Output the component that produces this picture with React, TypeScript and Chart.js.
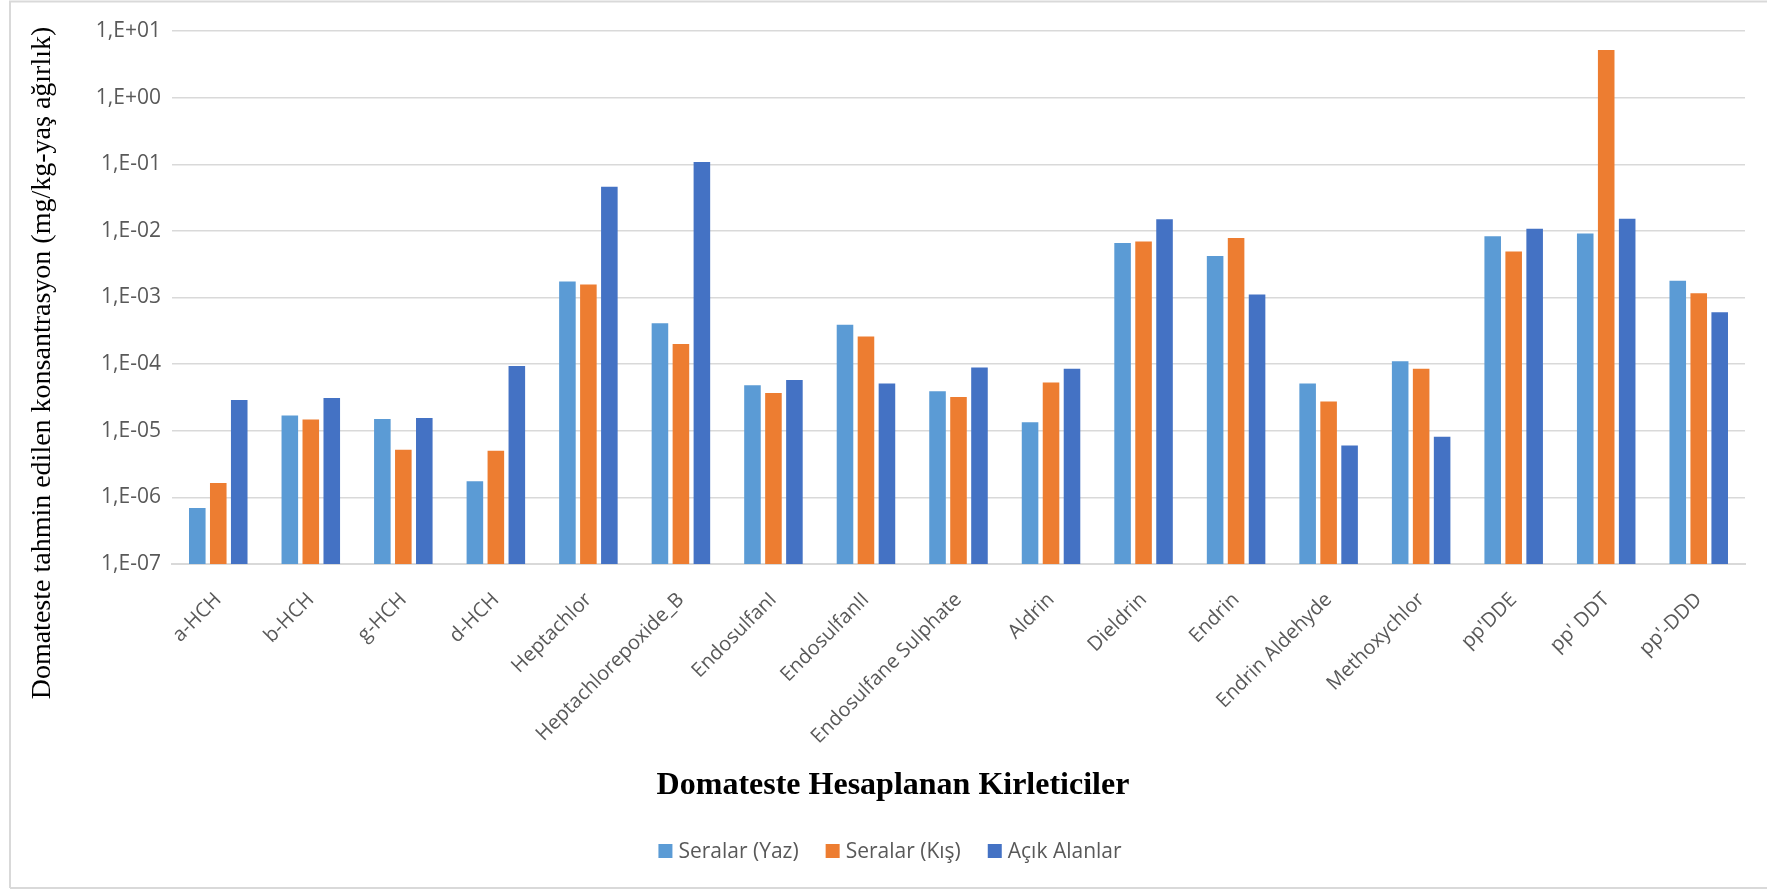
import React, { useEffect, useRef } from "react";
import { Chart, registerables } from "chart.js";

Chart.register(...registerables);

const categories = [
  "a-HCH",
  "b-HCH",
  "g-HCH",
  "d-HCH",
  "Heptachlor",
  "Heptachlorepoxide_B",
  "EndosulfanI",
  "EndosulfanII",
  "Endosulfane Sulphate",
  "Aldrin",
  "Dieldrin",
  "Endrin",
  "Endrin Aldehyde",
  "Methoxychlor",
  "pp'DDE",
  "pp' DDT",
  "pp'-DDD",
];

const seralarYaz = [
  6.9e-7, 1.7e-5, 1.5e-5, 1.75e-6, 1.74e-3, 4.1e-4, 4.8e-5, 3.9e-4, 3.9e-5,
  1.34e-5, 6.6e-3, 4.2e-3, 5.1e-5, 1.1e-4, 8.3e-3, 9.1e-3, 1.78e-3,
];

const seralarKis = [
  1.65e-6, 1.48e-5, 5.2e-6, 5.0e-6, 1.57e-3, 2.0e-4, 3.7e-5, 2.6e-4, 3.2e-5,
  5.3e-5, 6.9e-3, 7.8e-3, 2.75e-5, 8.5e-5, 4.9e-3, 5.2, 1.16e-3,
];

const acikAlanlar = [
  2.9e-5, 3.1e-5, 1.55e-5, 9.4e-5, 4.6e-2, 0.108, 5.8e-5, 5.1e-5, 8.9e-5,
  8.5e-5, 1.49e-2, 1.11e-3, 6.0e-6, 8.1e-6, 1.08e-2, 1.52e-2, 6.0e-4,
];

const seriesNames = ["Seralar (Yaz)", "Seralar (Kış)", "Açık Alanlar"];
const seriesColors = ["#5B9BD5", "#ED7D31", "#4472C4"];

const yTickExponents = [-7, -6, -5, -4, -3, -2, -1, 0, 1];

const yTitle = "Domateste tahmin edilen konsantrasyon (mg/kg-yaş ağırlık)";
const xTitle = "Domateste Hesaplanan Kirleticiler";

const W = 1767;
const H = 889;

function formatExp(v: number): string {
  const e = Math.round(Math.log10(v));
  const sign = e >= 0 ? "+" : "-";
  return "1,E" + sign + String(Math.abs(e)).padStart(2, "0");
}

const decorPlugin = {
  id: "decor",
  afterDraw(chart: any) {
    const ctx = chart.ctx as CanvasRenderingContext2D;
    ctx.save();
    // outer border
    ctx.strokeStyle = "#d9d9d9";
    ctx.lineWidth = 2;
    ctx.beginPath();
    ctx.moveTo(10, 888);
    ctx.lineTo(10, 1.5);
    ctx.lineTo(W, 1.5);
    ctx.moveTo(10, 888);
    ctx.lineTo(W, 888);
    ctx.stroke();

    // y title
    ctx.fillStyle = "#000000";
    ctx.font = "28px 'Liberation Serif', 'Times New Roman', serif";
    ctx.textAlign = "center";
    ctx.textBaseline = "middle";
    ctx.translate(43, 363);
    ctx.rotate(-Math.PI / 2);
    ctx.fillText(yTitle, 0, 0);
    ctx.setTransform(1, 0, 0, 1, 0, 0);

    // x title
    ctx.font = "bold 32px 'Liberation Serif', 'Times New Roman', serif";
    ctx.textAlign = "center";
    ctx.textBaseline = "middle";
    ctx.fillText(xTitle, 893, 786);

    // legend
    ctx.font = "21px 'Open Sans', sans-serif";
    ctx.textBaseline = "middle";
    ctx.textAlign = "left";
    const sq = 14;
    const gapSqText = 6;
    const gapItems = 27;
    const widths = seriesNames.map((n) => ctx.measureText(n).width);
    const total =
      widths.reduce((a, b) => a + b, 0) +
      seriesNames.length * (sq + gapSqText) +
      (seriesNames.length - 1) * gapItems;
    let x = 890 - total / 2;
    const ly = 851;
    seriesNames.forEach((n, i) => {
      ctx.fillStyle = seriesColors[i];
      ctx.fillRect(x, ly - sq / 2, sq, sq);
      x += sq + gapSqText;
      ctx.fillStyle = "#595959";
      ctx.fillText(n, x, ly + 1);
      x += widths[i] + gapItems;
    });
    ctx.restore();
  },
};

export default function App() {
  const canvasRef = useRef<HTMLCanvasElement | null>(null);

  useEffect(() => {
    const canvas = canvasRef.current;
    if (!canvas) return;
    const data = [seralarYaz, seralarKis, acikAlanlar];
    const chart = new Chart(canvas, {
      type: "bar",
      data: {
        labels: categories,
        datasets: seriesNames.map((name, i) => ({
          label: name,
          data: data[i],
          backgroundColor: seriesColors[i],
          borderWidth: 0,
          categoryPercentage: 0.68,
          barPercentage: 0.79,
        })),
      },
      options: {
        animation: false,
        responsive: false,
        devicePixelRatio: 1,
        layout: {
          padding: { left: 0, right: 22, top: 31, bottom: 125 },
        },
        plugins: {
          legend: { display: false },
          tooltip: { enabled: false },
          title: { display: false },
        },
        scales: {
          x: {
            grid: { display: false, drawTicks: false },
            border: { display: true, color: "#d9d9d9", width: 2 },
            ticks: {
              autoSkip: false,
              minRotation: 45,
              maxRotation: 45,
              color: "#595959",
              padding: 24,
              font: { family: "'Open Sans', sans-serif", size: 20 },
            },
            afterFit(scale: any) {
              scale.height = 200;
            },
          },
          y: {
            type: "logarithmic",
            min: 1e-7,
            max: 10,
            afterBuildTicks(scale: any) {
              scale.ticks = yTickExponents.map((e) => ({ value: Math.pow(10, e) }));
            },
            afterFit(scale: any) {
              scale.width = 172;
            },
            grid: {
              color: "#d9d9d9",
              lineWidth: 1.5,
              drawTicks: false,
            },
            border: { display: false },
            ticks: {
              color: "#595959",
              padding: 11,
              font: { family: "'Open Sans', sans-serif", size: 21 },
              callback: (v: any) => formatExp(Number(v)),
            },
          },
        },
      },
      plugins: [decorPlugin],
    });
    return () => chart.destroy();
  }, []);

  return (
    <div
      style={{
        position: "fixed",
        left: 0,
        top: 0,
        width: W,
        height: H,
        background: "#ffffff",
      }}
    >
      <canvas
        ref={canvasRef}
        width={W}
        height={H}
        style={{ width: W, height: H, display: "block" }}
      />
    </div>
  );
}
